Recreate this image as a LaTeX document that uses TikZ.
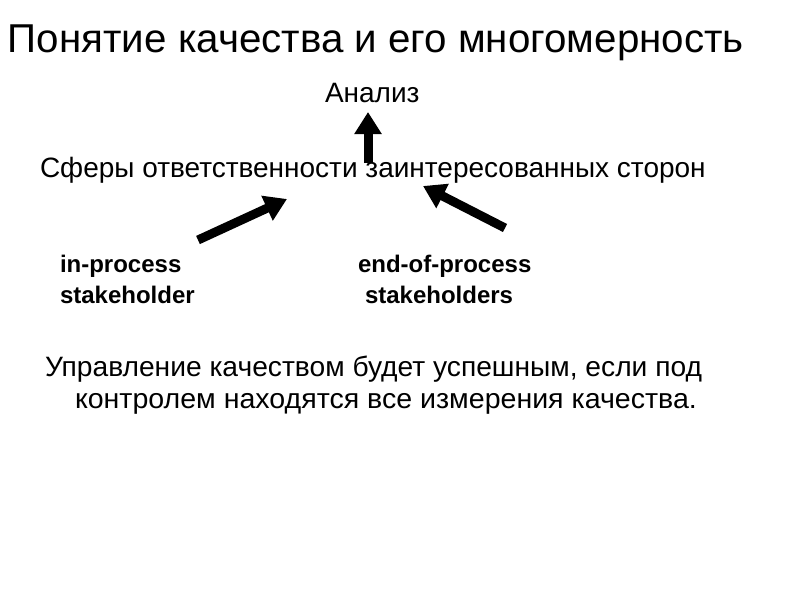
\documentclass[tikz,border=0pt]{standalone}
\usepackage{fontspec}
\setmainfont{Liberation Sans}
\usetikzlibrary{arrows.meta}
\tikzset{
  txt/.style={anchor=base west, inner sep=0pt, outer sep=0pt},
  bigarrow/.style={line width=9pt, -{Triangle[length=22pt,width=26pt]}},
  lbl/.style={txt, font=\fontsize{24}{28}\selectfont\bfseries},
  body/.style={txt, font=\fontsize{28}{32}\selectfont},
}
\begin{document}
\begin{tikzpicture}[x=1pt,y=-1pt]
\useasboundingbox (0,0) rectangle (794,595);
\node[txt, font=\fontsize{40.3}{44}\selectfont] (title) at (8,52) {Понятие качества и его многомерность};
\node[body] (anal) at (325,102) {Анализ};
\node[body] (sfery) at (40,177) {Сферы ответственности заинтересованных сторон};
\node[lbl] (inp1) at (60,272) {in-process};
\node[lbl] (inp2) at (60,303) {stakeholder};
\node[lbl] (end1) at (358,272) {end-of-process};
\node[lbl] (end2) at (365,303) {stakeholders};
\node[body] (upr1) at (45,376) {\scalebox{1.007}[1]{Управление качеством будет успешным, если под}};
\node[body] (upr2) at (75,408) {\scalebox{1.02}[1]{контролем находятся все измерения качества.}};
\coordinate (a1s) at (368,163);
\coordinate (a1e) at (368,112);
\coordinate (a2s) at (198,240);
\coordinate (a2e) at (287,199);
\coordinate (a3s) at (505,228);
\coordinate (a3e) at (423,186);
\draw[bigarrow] (a1s) -- (a1e);
\draw[bigarrow] (a2s) -- (a2e);
\draw[bigarrow] (a3s) -- (a3e);
\end{tikzpicture}
\end{document}
